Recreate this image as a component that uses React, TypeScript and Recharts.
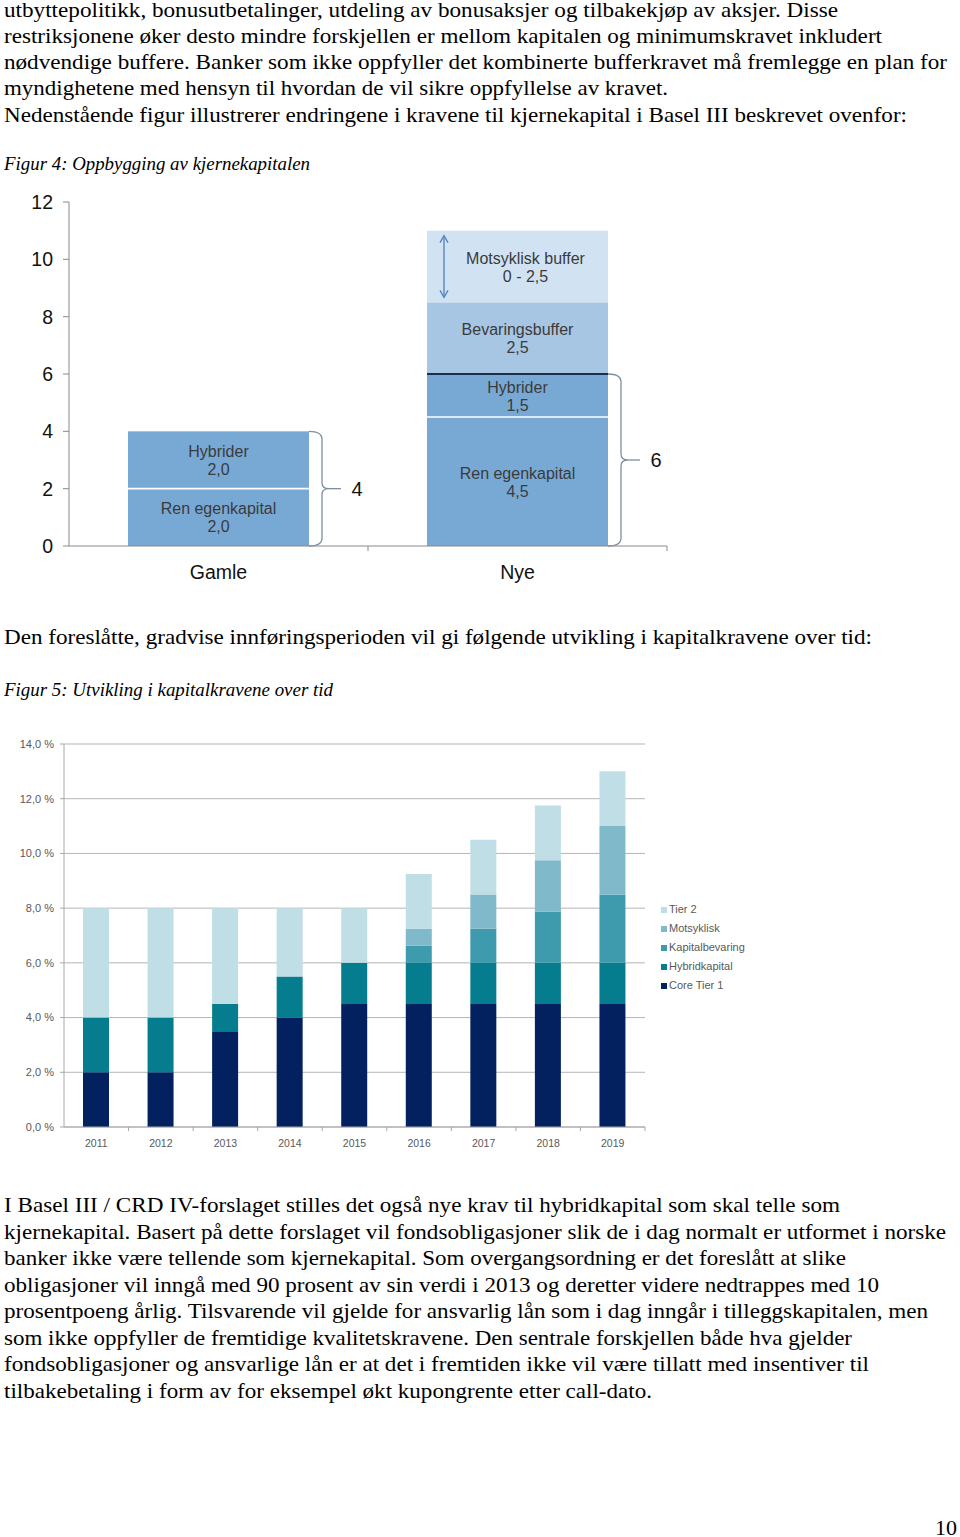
import React from 'react';
import { BarChart, Bar, XAxis, YAxis, CartesianGrid, Legend } from 'recharts';

// ---------------- Figur 4: Oppbygging av kjernekapitalen ----------------
const fig4Categories = ['Gamle', 'Nye'];
const fig4RenEgenkapital = [2.0, 4.5];
const fig4Hybrider = [2.0, 1.5];
const fig4Bevaringsbuffer = [0, 2.5];
const fig4Motsyklisk = [0, 2.5];
const fig4Titles = {
  ren: 'Ren egenkapital',
  hyb: 'Hybrider',
  bev: 'Bevaringsbuffer',
  mot: 'Motsyklisk buffer',
};
const fig4MotsykliskRange = '0 - 2,5';
const fig4YTicks = [0, 2, 4, 6, 8, 10, 12];

// ---------------- Figur 5: Utvikling i kapitalkravene over tid ----------------
const fig5Years = ['2011', '2012', '2013', '2014', '2015', '2016', '2017', '2018', '2019'];
const fig5CoreTier1 = [2.0, 2.0, 3.5, 4.0, 4.5, 4.5, 4.5, 4.5, 4.5];
const fig5Hybridkapital = [2.0, 2.0, 1.0, 1.5, 1.5, 1.5, 1.5, 1.5, 1.5];
const fig5Kapitalbevaring = [0, 0, 0, 0, 0, 0.625, 1.25, 1.875, 2.5];
const fig5Motsyklisk = [0, 0, 0, 0, 0, 0.625, 1.25, 1.875, 2.5];
const fig5Tier2 = [4.0, 4.0, 3.5, 2.5, 2.0, 2.0, 2.0, 2.0, 2.0];
const fig5SeriesNames = ['Core Tier 1', 'Hybridkapital', 'Kapitalbevaring', 'Motsyklisk', 'Tier 2'];
const fig5YTicks = [0, 2, 4, 6, 8, 10, 12, 14];

// ---------------- Page text ----------------
const topLines = [
  'utbyttepolitikk, bonusutbetalinger, utdeling av bonusaksjer og tilbakekjøp av aksjer. Disse',
  'restriksjonene øker desto mindre forskjellen er mellom kapitalen og minimumskravet inkludert',
  'nødvendige buffere. Banker som ikke oppfyller det kombinerte bufferkravet må fremlegge en plan for',
  'myndighetene med hensyn til hvordan de vil sikre oppfyllelse av kravet.',
  'Nedenstående figur illustrerer endringene i kravene til kjernekapital i Basel III beskrevet ovenfor:',
];
const caption4 = 'Figur 4: Oppbygging av kjernekapitalen';
const midLine = 'Den foreslåtte, gradvise innføringsperioden vil gi følgende utvikling i kapitalkravene over tid:';
const caption5 = 'Figur 5: Utvikling i kapitalkravene over tid';
const bottomLines = [
  'I Basel III / CRD IV-forslaget stilles det også nye krav til hybridkapital som skal telle som',
  'kjernekapital. Basert på dette forslaget vil fondsobligasjoner slik de i dag normalt er utformet i norske',
  'banker ikke være tellende som kjernekapital. Som overgangsordning er det foreslått at slike',
  'obligasjoner vil inngå med 90 prosent av sin verdi i 2013 og deretter videre nedtrappes med 10',
  'prosentpoeng årlig. Tilsvarende vil gjelde for ansvarlig lån som i dag inngår i tilleggskapitalen, men',
  'som ikke oppfyller de fremtidige kvalitetskravene. Den sentrale forskjellen både hva gjelder',
  'fondsobligasjoner og ansvarlige lån er at det i fremtiden ikke vil være tillatt med insentiver til',
  'tilbakebetaling i form av for eksempel økt kupongrente etter call-dato.',
];
const pageNumber = '10';

// layout of text lines (baseline y, rendered width)
const topLayout = [
  { y: 17, w: 834 },
  { y: 43, w: 878 },
  { y: 69, w: 943 },
  { y: 95, w: 664 },
  { y: 121.5, w: 903 },
];
const bottomLayout = [
  { y: 1212, w: 836 },
  { y: 1238.5, w: 942 },
  { y: 1265, w: 842 },
  { y: 1291.5, w: 875 },
  { y: 1318, w: 924 },
  { y: 1344.5, w: 848 },
  { y: 1371, w: 865 },
  { y: 1397.5, w: 648 },
];

const SERIF = "'Liberation Serif', 'Times New Roman', serif";
const SANS = "'Liberation Sans', Arial, sans-serif";

const C4_BASE = '#78a9d5';
const C4_BEV = '#a7c6e4';
const C4_MOT = '#d1e3f3';
const C4_AXIS = '#8a8a8a';
const C4_BRACE = '#7f8fa0';

const C5 = ['#04215f', '#067d8f', '#3e9bad', '#80b9ca', '#bfdee6'];
const C5_AXIS = '#a8a8a8';
const C5_TEXT = '#595959';

const fmt = (v: number) => v.toFixed(1).replace('.', ',');

const fig4Data = fig4Categories.map((name, i) => ({
  name,
  ren: fig4RenEgenkapital[i],
  hyb: fig4Hybrider[i],
  bev: fig4Bevaringsbuffer[i],
  mot: fig4Motsyklisk[i],
}));

const fig5Data = fig5Years.map((year, i) => ({
  year,
  core: fig5CoreTier1[i],
  hybrid: fig5Hybridkapital[i],
  kap: fig5Kapitalbevaring[i],
  mot: fig5Motsyklisk[i],
  tier2: fig5Tier2[i],
}));

const SegLabel = ({ cx, cy, title, sub }: any) => (
  <g fontFamily={SANS} fontSize={16} fill="#3b3b3b" textAnchor="middle">
    <text x={cx} y={cy - 3}>{title}</text>
    <text x={cx} y={cy + 15}>{sub}</text>
  </g>
);

const RenShape = (p: any) => {
  const { x, y, width, height, payload } = p;
  if (!(height > 0)) return null;
  return (
    <g>
      <rect x={x} y={y} width={width} height={height} fill={C4_BASE} />
      <SegLabel cx={x + width / 2} cy={y + height / 2} title={fig4Titles.ren} sub={fmt(payload.ren)} />
    </g>
  );
};

const HybShape = (p: any) => {
  const { x, y, width, height, payload } = p;
  if (!(height > 0)) return null;
  const total = payload.ren + payload.hyb;
  const bottom = y + (height * total) / payload.hyb;
  const x0 = x + width;
  const mid = (y + bottom) / 2;
  const bx = x0 + 13;
  const d = `M${x0},${y} Q${bx},${y} ${bx},${y + 8} L${bx},${mid - 6} Q${bx},${mid} ${bx + 7},${mid} Q${bx},${mid} ${bx},${mid + 6} L${bx},${bottom - 8} Q${bx},${bottom} ${x0},${bottom}`;
  return (
    <g>
      <rect x={x} y={y} width={width} height={height} fill={C4_BASE} />
      <line x1={x} x2={x + width} y1={y + height} y2={y + height} stroke="#ffffff" strokeWidth={1.6} />
      <SegLabel cx={x + width / 2} cy={y + height / 2} title={fig4Titles.hyb} sub={fmt(payload.hyb)} />
      <path d={d} fill="none" stroke={C4_BRACE} strokeWidth={1.3} />
      <line x1={bx + 7} x2={bx + 19} y1={mid} y2={mid} stroke={C4_BRACE} strokeWidth={1.3} />
      <text x={x0 + 48} y={mid} dy="0.36em" textAnchor="middle" fontFamily={SANS} fontSize={20} fill="#111">
        {String(total)}
      </text>
    </g>
  );
};

const BevShape = (p: any) => {
  const { x, y, width, height, payload } = p;
  if (!(height > 0)) return null;
  return (
    <g>
      <rect x={x} y={y} width={width} height={height} fill={C4_BEV} />
      <line x1={x} x2={x + width} y1={y + height} y2={y + height} stroke="#1c2d4a" strokeWidth={1.8} />
      <SegLabel cx={x + width / 2} cy={y + height / 2} title={fig4Titles.bev} sub={fmt(payload.bev)} />
    </g>
  );
};

const MotShape = (p: any) => {
  const { x, y, width, height } = p;
  if (!(height > 0)) return null;
  const ax = x + 17;
  const a1 = y + 5;
  const a2 = y + height - 5;
  const arrowColor = '#5a88bb';
  return (
    <g>
      <rect x={x} y={y} width={width} height={height} fill={C4_MOT} />
      <line x1={ax} x2={ax} y1={a1} y2={a2} stroke={arrowColor} strokeWidth={1.4} />
      <path d={`M${ax - 4},${a1 + 7} L${ax},${a1} L${ax + 4},${a1 + 7}`} fill="none" stroke={arrowColor} strokeWidth={1.4} />
      <path d={`M${ax - 4},${a2 - 7} L${ax},${a2} L${ax + 4},${a2 - 7}`} fill="none" stroke={arrowColor} strokeWidth={1.4} />
      <SegLabel cx={x + width / 2 + 8} cy={y + height / 2} title={fig4Titles.mot} sub={fig4MotsykliskRange} />
    </g>
  );
};

const Fig4Tick = (p: any) => {
  const { x, y, payload } = p;
  const off = (payload && payload.offset) || 0;
  return (
    <g>
      {off ? <line x1={x + off} x2={x + off} y1={y} y2={y + 5} stroke={C4_AXIS} /> : null}
      <text x={x} y={y + 33} textAnchor="middle" fontFamily={SANS} fontSize={19.5} fill="#111">
        {payload.value}
      </text>
    </g>
  );
};

const Fig5Tick = (p: any) => {
  const { x, y, payload } = p;
  const off = (payload && payload.offset) || 0;
  return (
    <g>
      {off ? <line x1={x + off} x2={x + off} y1={y} y2={y + 4} stroke={C5_AXIS} /> : null}
      <text x={x} y={y + 20} textAnchor="middle" fontFamily={SANS} fontSize={10.5} fill={C5_TEXT}>
        {payload.value}
      </text>
    </g>
  );
};

const Fig5Legend = (p: any) => {
  const items = [...(p.payload || [])].reverse();
  return (
    <div style={{ fontFamily: SANS, fontSize: 11, color: C5_TEXT, lineHeight: '19px' }}>
      {items.map((it: any) => (
        <div key={it.value} style={{ display: 'flex', alignItems: 'center', height: 19, whiteSpace: 'nowrap' }}>
          <span style={{ display: 'inline-block', width: 6, height: 6, background: it.color, marginRight: 2 }} />
          {it.value}
        </div>
      ))}
    </div>
  );
};

const TextLine = ({ x, y, w, size, italic, children }: any) => (
  <text
    x={x}
    y={y}
    textLength={w}
    lengthAdjust="spacingAndGlyphs"
    fontFamily={SERIF}
    fontSize={size}
    fontStyle={italic ? 'italic' : 'normal'}
    fill="#000"
  >
    {children}
  </text>
);

export default function App() {
  return (
    <div
      style={{
        position: 'fixed',
        left: 0,
        top: 0,
        width: 960,
        height: 1537,
        background: '#ffffff',
        overflow: 'hidden',
      }}
    >
      <svg width={960} height={1537} style={{ position: 'absolute', left: 0, top: 0 }}>
        {topLines.map((t, i) => (
          <TextLine key={'t' + i} x={4} y={topLayout[i].y} w={topLayout[i].w} size={21}>
            {t}
          </TextLine>
        ))}
        <TextLine x={4} y={170} w={306} size={18} italic>
          {caption4}
        </TextLine>
        <TextLine x={4} y={644} w={868} size={21}>
          {midLine}
        </TextLine>
        <TextLine x={4} y={696} w={329} size={18} italic>
          {caption5}
        </TextLine>
        {bottomLines.map((t, i) => (
          <TextLine key={'b' + i} x={4} y={bottomLayout[i].y} w={bottomLayout[i].w} size={21}>
            {t}
          </TextLine>
        ))}
        <TextLine x={935} y={1535} w={22} size={21}>
          {pageNumber}
        </TextLine>
      </svg>

      <div style={{ position: 'absolute', left: 0, top: 180 }}>
        <BarChart width={700} height={420} data={fig4Data} margin={{ top: 22, right: 33, left: 0, bottom: 24 }} barSize={181}>
          <YAxis
            width={69}
            type="number"
            domain={[0, 12]}
            ticks={fig4YTicks}
            interval={0}
            axisLine={{ stroke: C4_AXIS }}
            tickLine={{ stroke: C4_AXIS }}
            tickSize={6}
            tickMargin={10}
            tick={{ fill: '#111', fontSize: 19.5, fontFamily: SANS }}
          />
          <XAxis
            dataKey="name"
            height={30}
            interval={0}
            tickSize={0}
            tickMargin={0}
            tickLine={false}
            axisLine={{ stroke: C4_AXIS }}
            tick={<Fig4Tick />}
          />
          <Bar dataKey="ren" stackId="a" fill={C4_BASE} shape={<RenShape />} isAnimationActive={false} />
          <Bar dataKey="hyb" stackId="a" fill={C4_BASE} shape={<HybShape />} isAnimationActive={false} />
          <Bar dataKey="bev" stackId="a" fill={C4_BEV} shape={<BevShape />} isAnimationActive={false} />
          <Bar dataKey="mot" stackId="a" fill={C4_MOT} shape={<MotShape />} isAnimationActive={false} />
        </BarChart>
      </div>

      <div style={{ position: 'absolute', left: 0, top: 725 }}>
        <BarChart width={780} height={440} data={fig5Data} margin={{ top: 19, right: 135, left: 0, bottom: 8 }} barSize={26}>
          <CartesianGrid vertical={false} stroke="#b5b5b5" />
          <YAxis
            width={64}
            type="number"
            domain={[0, 14]}
            ticks={fig5YTicks}
            interval={0}
            tickFormatter={(v: number) => fmt(v) + ' %'}
            axisLine={{ stroke: C5_AXIS }}
            tickLine={{ stroke: C5_AXIS }}
            tickSize={4}
            tickMargin={6}
            tick={{ fill: C5_TEXT, fontSize: 11, fontFamily: SANS }}
          />
          <XAxis
            dataKey="year"
            height={30}
            interval={0}
            tickSize={0}
            tickMargin={0}
            tickLine={false}
            axisLine={{ stroke: C5_AXIS }}
            tick={<Fig5Tick />}
          />
          <Bar dataKey="core" name={fig5SeriesNames[0]} stackId="s" fill={C5[0]} isAnimationActive={false} />
          <Bar dataKey="hybrid" name={fig5SeriesNames[1]} stackId="s" fill={C5[1]} isAnimationActive={false} />
          <Bar dataKey="kap" name={fig5SeriesNames[2]} stackId="s" fill={C5[2]} isAnimationActive={false} />
          <Bar dataKey="mot" name={fig5SeriesNames[3]} stackId="s" fill={C5[3]} isAnimationActive={false} />
          <Bar dataKey="tier2" name={fig5SeriesNames[4]} stackId="s" fill={C5[4]} isAnimationActive={false} />
          <Legend
            layout="vertical"
            align="center"
            verticalAlign="middle"
            content={<Fig5Legend />}
            wrapperStyle={{ position: 'absolute', left: 661, top: 175, width: 115 }}
          />
        </BarChart>
      </div>
    </div>
  );
}
